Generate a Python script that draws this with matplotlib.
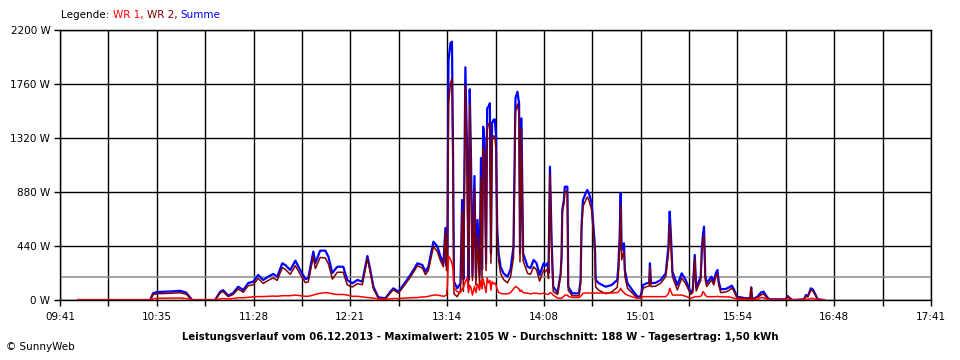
# Leistungsverlauf SunnyWeb 06.12.2013
import numpy as np
import matplotlib.pyplot as plt

# minutes after 09:41
minutes = [9.9, 49.7, 51.3, 53.5, 57.9, 61.8, 66.2, 69.5, 71.7, 72.8,
           85.5, 88.3, 89.9, 92.7, 95.4, 98.2, 101.0, 103.7, 106.5, 109.2,
           112.0, 114.8, 117.5, 119.7, 122.5, 124.1, 126.9, 129.7, 132.4, 135.2,
           136.8, 139.6, 140.7, 143.4, 146.2, 147.9, 150.1, 152.8, 156.1, 158.3,
           161.1, 163.9, 166.6, 169.4, 171.0, 172.7, 175.4, 179.3, 182.1, 183.7,
           186.5, 189.2, 193.1, 197.0, 199.7, 201.4, 203.0, 205.8, 208.0, 209.7,
           211.3, 212.4, 213.0, 213.5, 214.1, 215.2, 216.0, 216.6, 217.1, 218.9,
           220.7, 221.6, 222.3, 223.4, 224.4, 225.1, 225.8, 226.5, 227.3, 228.4,
           229.2, 230.1, 231.2, 232.0, 232.6, 233.2, 233.9, 234.8, 235.4, 236.1,
           236.9, 237.5, 238.1, 238.9, 239.6, 240.3, 240.9, 241.7, 242.8, 244.4,
           246.6, 248.3, 249.9, 251.0, 252.1, 253.0, 253.5, 254.3, 255.2, 257.7,
           259.3, 261.0, 262.6, 264.3, 266.5, 267.6, 268.7, 269.2, 270.0, 270.9,
           271.8, 274.2, 275.9, 276.4, 276.8, 277.7, 278.2, 279.6, 280.1, 282.3,
           286.0, 286.9, 287.4, 288.2, 289.7, 290.6, 291.5, 293.0, 294.8, 295.2,
           297.0, 300.7, 304.0, 307.1, 307.7, 308.4, 309.0, 309.5, 310.8, 311.3,
           312.7, 315.4, 318.2, 320.0, 321.3, 323.3, 324.7, 325.1, 325.7, 328.3,
           331.0, 333.8, 335.3, 336.0, 336.7, 337.5, 340.2, 342.6, 344.8, 347.6,
           348.7, 349.8, 350.6, 351.6, 353.1, 353.7, 354.2, 354.9, 355.6, 356.4,
           359.0, 360.3, 361.4, 362.3, 363.0, 364.1, 366.9, 368.7, 370.2, 371.3,
           373.0, 377.9, 380.4, 380.9, 381.4, 384.4, 386.2, 387.7, 389.5, 390.8,
           400.0, 400.9, 402.2, 403.7, 410.1, 411.0, 412.1, 413.8, 414.9, 416.0,
           417.5, 421.1]

wr1 = [0, 0, 10, 14, 15, 15, 16, 12, 5, 0,
       0, 10, 12, 8, 12, 18, 18, 22, 25, 28,
       28, 30, 32, 30, 35, 35, 35, 40, 35, 30,
       30, 40, 45, 55, 60, 58, 50, 45, 45, 40,
       30, 30, 25, 20, 18, 15, 8, 5, 10, 12,
       12, 15, 18, 20, 25, 25, 30, 40, 40, 35,
       30, 35, 40, 120, 360, 330, 300, 250, 100, 68,
       60, 90, 100, 150, 180, 60, 120, 100, 40, 110,
       60, 130, 80, 160, 90, 170, 120, 60, 180, 140,
       160, 80, 150, 130, 140, 120, 90, 60, 55, 50,
       50, 60, 90, 110, 100, 90, 70, 80, 60, 55,
       50, 55, 55, 50, 55, 50, 45, 45, 60, 55,
       40, 15, 14, 14, 20, 30, 40, 40, 30, 20,
       20, 30, 40, 54, 57, 57, 57, 57, 57, 57,
       57, 57, 57, 60, 65, 80, 95, 80, 60, 50,
       40, 25, 14, 14, 27, 27, 27, 27, 27, 27,
       27, 27, 50, 95, 70, 40, 40, 40, 30, 14,
       20, 27, 27, 27, 30, 40, 68, 60, 40, 27,
       27, 27, 27, 30, 27, 27, 25, 25, 20, 15,
       8, 3, 0, 0, 0, 5, 20, 18, 8, 0,
       0, 5, 0, 0, 0, 8, 5, 14, 12, 8,
       0, 0]

wr2 = [0, 0, 45, 51, 53, 55, 59, 48, 15, 0,
       0, 58, 68, 27, 45, 90, 63, 116, 124, 176,
       135, 160, 180, 160, 264, 250, 209, 280, 209, 141,
       147, 354, 256, 347, 342, 295, 170, 226, 226, 123,
       106, 133, 124, 338, 226, 93, 14, 9, 58, 83,
       56, 107, 186, 279, 260, 206, 241, 435, 394, 318,
       270, 552, 240, 260, 1596, 1764, 1805, 950, 50, 27,
       76, 725, 70, 1746, 988, 103, 1597, 1041, 160, 900,
       120, 522, 120, 997, 160, 1242, 1184, 240, 1382, 1435,
       1443, 300, 1290, 1337, 1332, 1216, 507, 320, 216, 167,
       140, 190, 344, 1533, 1597, 1510, 310, 1400, 320, 216,
       210, 271, 245, 154, 244, 230, 255, 175, 1026, 434,
       68, 45, 203, 339, 713, 785, 883, 883, 78, 34,
       34, 133, 557, 761, 812, 839, 812, 731, 377, 106,
       79, 51, 65, 103, 206, 436, 774, 327, 402, 194,
       96, 56, 13, 16, 95, 109, 113, 272, 109, 113,
       136, 190, 384, 625, 446, 190, 82, 177, 133, 46,
       61, 340, 73, 109, 160, 381, 448, 537, 160, 109,
       163, 123, 190, 214, 123, 60, 65, 78, 97, 75,
       19, 11, 14, 103, 5, 22, 40, 50, 19, 5,
       5, 28, 15, 0, 5, 32, 25, 81, 73, 46,
       5, 0]

summe = np.array(wr1) + np.array(wr2)
durchschnitt = 188

time_labels = ['09:41', '10:35', '11:28', '12:21', '13:14',
               '14:08', '15:01', '15:54', '16:48', '17:41']
y_ticks = [0, 440, 880, 1320, 1760, 2200]

plt.rcParams['font.family'] = 'DejaVu Sans'
fig = plt.figure(figsize=(9.6, 3.6), dpi=100)
ax = fig.add_axes([0.0625, 0.1667, 0.9073, 0.75])

ax.plot(minutes, summe, color='#0000ff', linewidth=1.6, zorder=3)
ax.plot(minutes, wr2, color='#800000', linewidth=1.1, zorder=4)
ax.plot(minutes, wr1, color='#ff0000', linewidth=1.1, zorder=5)
ax.axhline(durchschnitt, color='#8c8c8c', linewidth=1.1, zorder=2)

ax.set_xlim(0, 480)
ax.set_ylim(0, 2200)
ax.set_xticks(np.linspace(0, 480, 19))
ax.set_xticklabels([time_labels[i // 2] if i % 2 == 0 else '' for i in range(19)])
ax.set_yticks(y_ticks)
ax.set_yticklabels([f'{v} W' for v in y_ticks])
ax.tick_params(axis='both', length=4, width=1, color='black', labelsize=7.5, pad=3)
ax.tick_params(axis='x', pad=5)
ax.grid(True, color='black', linewidth=1.0, zorder=1)
for s in ax.spines.values():
    s.set_linewidth(1.0)
    s.set_color('black')

# legend line at the top, pieces in their own colours
t = fig.text(0.064, 0.945, 'Legende: ', fontsize=7.5, color='black', va='bottom')
for txt, col in [('WR 1, ', '#ff0000'), ('WR 2, ', '#800000'), ('Summe', '#0000ff')]:
    t = ax.annotate(txt, xy=(1, 0), xycoords=t, fontsize=7.5, color=col,
                    va='bottom', annotation_clip=False)

fig.text(0.5, 0.064, 'Leistungsverlauf vom 06.12.2013 - Maximalwert: 2105 W - '
         'Durchschnitt: 188 W - Tagesertrag: 1,50 kWh',
         ha='center', va='center', fontsize=7.3, fontweight='bold')
fig.text(0.006, 0.036, '© SunnyWeb', fontsize=7.5, va='center')

plt.savefig('out.png', dpi=100)
